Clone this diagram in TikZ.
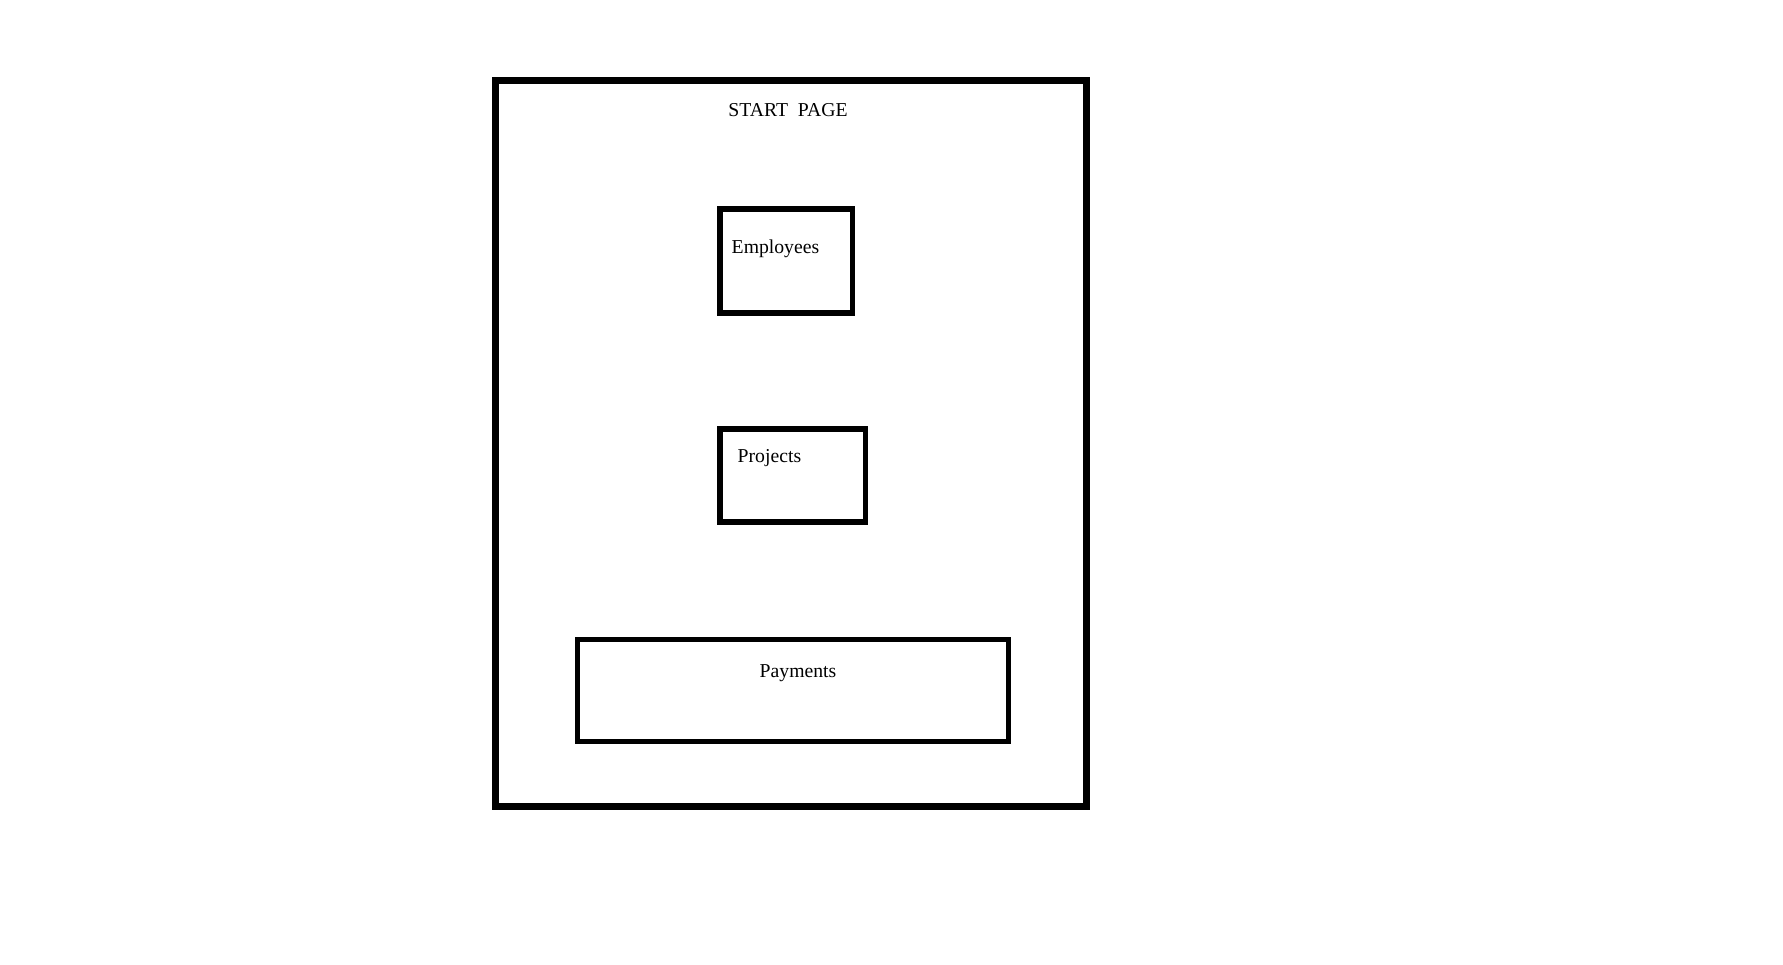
\documentclass[tikz,border=0pt]{standalone}
\usepackage{fontspec}
\setmainfont{Liberation Serif}
\usetikzlibrary{positioning}
\tikzset{
	pagebox/.style={rectangle, draw=black, line width=2pt, minimum width=5.9cm, minimum height=7.25cm, inner sep=0pt},
	menubox/.style={rectangle, draw=black, line width=1.45pt, inner sep=0pt},
	menulabel/.style={font=\fontsize{5.6}{7}\selectfont, inner sep=0pt}
}
\begin{document}
\begin{tikzpicture}[x=0.01cm, y=-0.01cm]
			\useasboundingbox (0,0) rectangle (1783,964);
			
			\node[pagebox] (startpage) at (791,443.5) {};
			\node[menulabel] (startlabel) at (788,110) {START\ \ PAGE};
			
			\node[menubox, minimum width=1.32cm, minimum height=1.04cm] (employees) at (786,261) {};
			\node[menulabel, anchor=west] (employeeslabel) at (731,249) {Employees};
			
			\node[menubox, minimum width=1.45cm, minimum height=0.93cm] (projects) at (792.5,475.5) {};
			\node[menulabel, anchor=west] (projectslabel) at (737,458) {Projects};
			
			\node[menubox, minimum width=4.3cm, minimum height=1.02cm] (payments) at (793,690.5) {};
			\node[menulabel] (paymentslabel) at (798,673) {Payments};
		\end{tikzpicture}
\end{document}
